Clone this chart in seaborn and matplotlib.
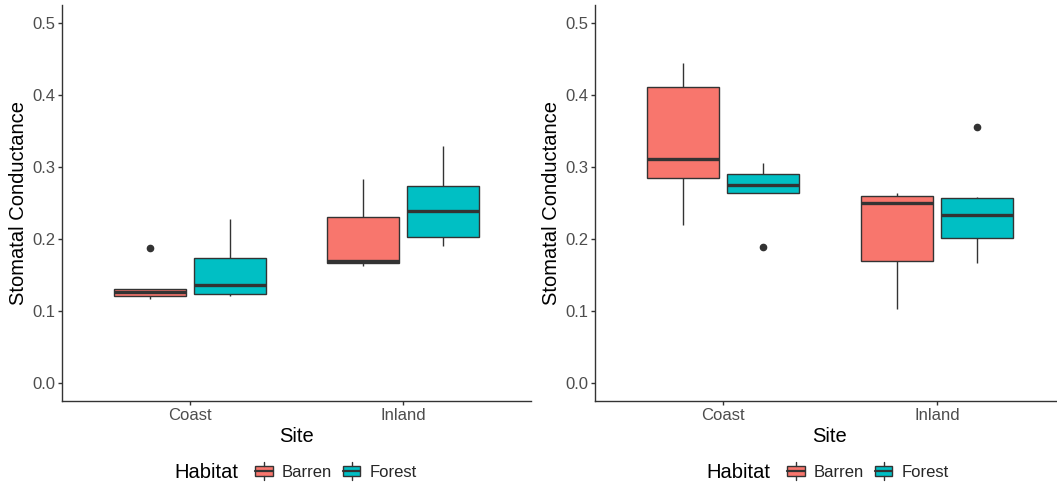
import numpy as np
import pandas as pd
import matplotlib
matplotlib.use("Agg")
import matplotlib.pyplot as plt
import seaborn as sns
from matplotlib.legend_handler import HandlerBase
from matplotlib.patches import Rectangle, Patch
from matplotlib.lines import Line2D

# ---- data ----
sites = ["Coast", "Inland"]
habitats = ["Barren", "Forest"]

left_coast_barren = [0.117, 0.1215, 0.126, 0.130, 0.187]
left_coast_forest = [0.121, 0.124, 0.136, 0.173, 0.228]
left_inland_barren = [0.162, 0.1665, 0.170, 0.231, 0.283]
left_inland_forest = [0.190, 0.2025, 0.2385, 0.273, 0.3295]

right_coast_barren = [0.219, 0.2847, 0.311, 0.4105, 0.444]
right_coast_forest = [0.1895, 0.264, 0.2755, 0.290, 0.306]
right_inland_barren = [0.1026, 0.170, 0.250, 0.260, 0.2645]
right_inland_forest = [0.1665, 0.1963, 0.217, 0.251, 0.259, 0.3555]

y_ticks = [0.0, 0.1, 0.2, 0.3, 0.4, 0.5]
colors = {"Barren": "#F8766D", "Forest": "#00BFC4"}


def make_df(groups):
    rows = []
    for (site, hab), vals in groups.items():
        for v in vals:
            rows.append({"Site": site, "Habitat": hab, "Conductance": v})
    return pd.DataFrame(rows)


df_left = make_df({
    ("Coast", "Barren"): left_coast_barren,
    ("Coast", "Forest"): left_coast_forest,
    ("Inland", "Barren"): left_inland_barren,
    ("Inland", "Forest"): left_inland_forest,
})
df_right = make_df({
    ("Coast", "Barren"): right_coast_barren,
    ("Coast", "Forest"): right_coast_forest,
    ("Inland", "Barren"): right_inland_barren,
    ("Inland", "Forest"): right_inland_forest,
})

sns.set_theme(style="white")
plt.rcParams["font.family"] = ["Liberation Sans", "DejaVu Sans"]

W, H = 1057, 486
fig = plt.figure(figsize=(W / 100, H / 100), dpi=100)

edge = "#333333"
tickgray = "#4D4D4D"


def px_axes(x0, x1, ytop, ybot):
    return fig.add_axes([x0 / W, 1 - ybot / H, (x1 - x0) / W, (ybot - ytop) / H])


class BoxHandler(HandlerBase):
    def __init__(self, color):
        super().__init__()
        self.color = color

    def create_artists(self, legend, orig_handle, xdescent, ydescent, width, height, fontsize, trans):
        bw = width
        bh = height * 0.75
        y0 = (height - bh) / 2 - ydescent
        x0 = -xdescent
        rect = Rectangle((x0, y0), bw, bh, facecolor=self.color, edgecolor=edge,
                         linewidth=1.0, transform=trans)
        med = Line2D([x0, x0 + bw], [y0 + bh / 2] * 2, color=edge, linewidth=1.6, transform=trans)
        wt = Line2D([x0 + bw / 2] * 2, [y0 + bh, y0 + bh + 3], color=edge, linewidth=1.0, transform=trans)
        wb = Line2D([x0 + bw / 2] * 2, [y0 - 3, y0], color=edge, linewidth=1.0, transform=trans)
        return [rect, med, wt, wb]


def draw(ax, df, legend_cx):
    sns.boxplot(data=df, x="Site", y="Conductance", hue="Habitat", order=sites,
                hue_order=habitats, palette=colors, width=0.75, gap=0.1,
                saturation=1, linewidth=1.0, linecolor=edge, showcaps=False,
                whis=1.5, ax=ax, legend=False,
                medianprops={"linewidth": 2.4, "color": edge},
                flierprops={"marker": "o", "markerfacecolor": edge,
                            "markeredgecolor": edge, "markersize": 4.5})
    ax.set_xlim(-0.6, 1.6)
    ax.set_ylim(-0.025, 0.525)
    ax.set_yticks(y_ticks)
    ax.set_yticklabels([f"{t:.1f}" for t in y_ticks])
    ax.set_xlabel("Site", fontsize=14.5, color="black", labelpad=3)
    ax.set_ylabel("Stomatal Conductance", fontsize=14.5, color="black", labelpad=3)
    for s in ["top", "right"]:
        ax.spines[s].set_visible(False)
    for s in ["left", "bottom"]:
        ax.spines[s].set_color(edge)
        ax.spines[s].set_linewidth(1.0)
    ax.tick_params(axis="both", which="both", length=2.7, width=1.0, color=edge,
                   labelcolor=tickgray, labelsize=12, direction="out", pad=2,
                   left=True, bottom=True)
    # legend
    fig.text((legend_cx - 124) / W, 1 - 472 / H, "Habitat", fontsize=14.5,
             color="black", ha="left", va="center")
    handles = [Patch(label=h) for h in habitats]
    hmap = {handles[i]: BoxHandler(colors[h]) for i, h in enumerate(habitats)}
    fig.legend(handles=handles, labels=habitats, handler_map=hmap,
               loc="center left", bbox_to_anchor=((legend_cx - 43) / W, 1 - 472 / H),
               ncol=2, frameon=False, fontsize=12, handlelength=1.05, handleheight=0.8,
               handletextpad=0.55, columnspacing=0.65, borderpad=0, borderaxespad=0)


axL = px_axes(62, 531, 5, 401)
draw(axL, df_left, 298)
axR = px_axes(595, 1065, 5, 401)
draw(axR, df_right, 830)

fig.savefig("out.png", dpi=100)
